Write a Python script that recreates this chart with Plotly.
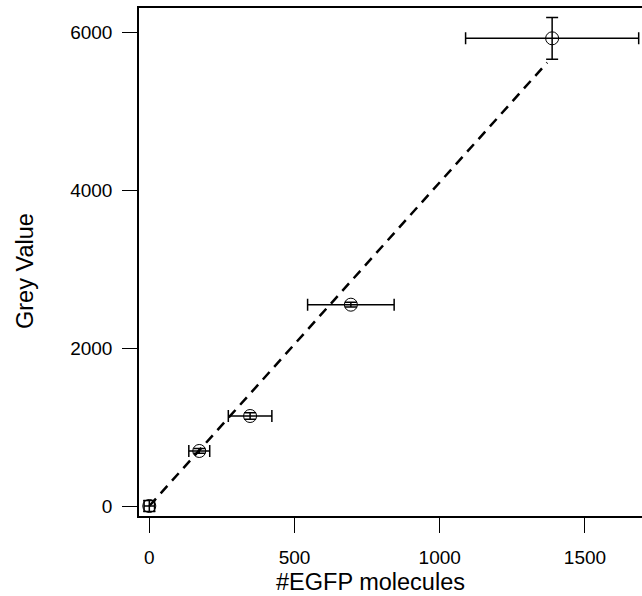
import plotly.graph_objects as go

# Data
egfp_molecules = [0, 172, 347, 694, 1387]
grey_value = [0, 697, 1140, 2550, 5924]
egfp_err = [18, 36, 75, 149, 298]
grey_err = [70, 30, 40, 30, 264]

fit_x = [0, 1370]
fit_y = [0, 5617]

x_ticks = [0, 500, 1000, 1500]
y_ticks = [0, 2000, 4000, 6000]

W, H = 642, 596
L, R, T, B = 139, 0, 8, 596 - 516

fig = go.Figure()

fig.add_trace(go.Scatter(
    x=fit_x, y=fit_y, mode="lines",
    line=dict(color="black", width=2.5, dash="10px,7px"),
    showlegend=False, hoverinfo="skip"))

fig.add_trace(go.Scatter(
    x=egfp_molecules, y=grey_value, mode="markers",
    marker=dict(symbol="circle-open", size=13, color="black",
                line=dict(width=1, color="black")),
    error_x=dict(type="data", array=egfp_err, visible=True,
                 color="black", thickness=1.5, width=6),
    error_y=dict(type="data", array=grey_err, visible=True,
                 color="black", thickness=1.5, width=6),
    showlegend=False, cliponaxis=False))

font = "Liberation Sans, Arial, sans-serif"
pw, ph = W - L - R, H - T - B

fig.update_layout(
    width=W, height=H,
    margin=dict(l=L, r=R, t=T, b=B),
    paper_bgcolor="white", plot_bgcolor="white",
    font=dict(family=font, color="black"),
    xaxis=dict(range=[-35.5, 1696.4], tickvals=x_ticks,
               ticks="outside", ticklen=15, tickwidth=1.3, tickcolor="black",
               showline=True, linecolor="black", linewidth=1.5, mirror=True,
               showgrid=False, zeroline=False,
               tickfont=dict(size=19, family=font), ticklabelstandoff=8),
    yaxis=dict(range=[-126.7, 6308], tickvals=y_ticks,
               ticks="outside", ticklen=15, tickwidth=1.3, tickcolor="black",
               showline=True, linecolor="black", linewidth=1.5, mirror=False,
               showgrid=False, zeroline=False,
               tickfont=dict(size=19, family=font), ticklabelstandoff=6),
    annotations=[
        dict(text="#EGFP molecules", xref="paper", yref="paper",
             x=(370 - L) / pw, y=-(582 - 516) / ph,
             xanchor="center", yanchor="middle", showarrow=False,
             font=dict(size=23.5, family=font, color="black")),
        dict(text="Grey Value", xref="paper", yref="paper",
             x=-(139 - 25) / pw, y=(516 - 271) / ph,
             xanchor="center", yanchor="middle", showarrow=False, textangle=-90,
             font=dict(size=23.5, family=font, color="black")),
    ],
)

fig.write_html(
    "out.html",
    config={"displayModeBar": False},
    post_script="document.body.style.margin='0px';"
                "document.body.style.overflow='hidden';"
                "document.documentElement.style.overflow='hidden';",
)
